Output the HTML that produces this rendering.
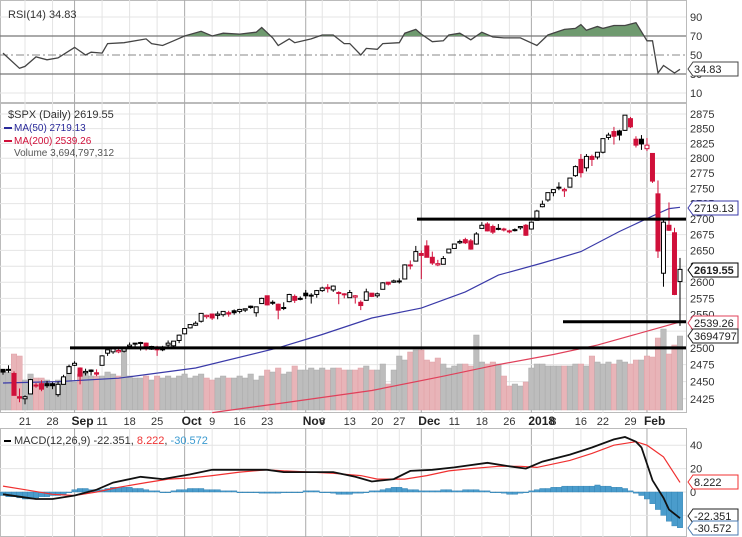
<!DOCTYPE html>
<html><head><meta charset="utf-8"><style>
body{margin:0;background:#fff;}
svg{display:block;font-family:"Liberation Sans",sans-serif;}
</style></head><body>
<svg id="c" width="742" height="537" viewBox="0 0 742 537" xmlns="http://www.w3.org/2000/svg">
<rect x="0" y="0" width="742" height="537" fill="#fff"/>
<g id="grid"></g>
<g id="vol"></g>
<g id="ma"></g>
<g id="candles"></g>
<g id="ann"></g>
<g id="rsi"></g>
<g id="macd"></g>
<g id="axes"></g>
<g id="legend">
<text x="8" y="18" font-size="11" fill="#333">RSI(14) 34.83</text>
<text x="8" y="118" font-size="11" fill="#333">$SPX (Daily) 2619.55</text>
<line x1="4" y1="128" x2="12" y2="128" stroke="#2a2a9a" stroke-width="2"/>
<text x="14" y="131" font-size="10" fill="#2a2a9a">MA(50) 2719.13</text>
<line x1="4" y1="141" x2="12" y2="141" stroke="#d0103a" stroke-width="2"/>
<text x="14" y="144" font-size="10" fill="#d0103a">MA(200) 2539.26</text>
<text x="14" y="156" font-size="10" fill="#555">Volume 3,694,797,312</text>
<line x1="4" y1="441" x2="11" y2="441" stroke="#000" stroke-width="2"/>
<text x="14" y="444" font-size="11"><tspan fill="#333">MACD(12,26,9) -22.351, </tspan><tspan fill="#e33">8.222</tspan><tspan fill="#333">, </tspan><tspan fill="#3a9ad0">-30.572</tspan></text>
</g>
</svg>
<script>
const closes=[2464,2468,2430,2426,2428,2453,2444,2439,2444,2444,2446,2457,2472,2477,2458,2465,2465,2461,2488,2497,2499,2496,2500,2504,2507,2508,2500,2502,2497,2497,2507,2510,2519,2529,2535,2537,2552,2549,2545,2551,2555,2551,2553,2558,2559,2561,2562,2575,2565,2569,2557,2560,2581,2572,2575,2579,2580,2587,2591,2590,2594,2584,2582,2584,2579,2564,2585,2578,2582,2599,2597,2602,2602,2627,2626,2648,2642,2639,2630,2629,2637,2652,2660,2664,2662,2652,2676,2690,2681,2679,2684,2683,2681,2682,2688,2674,2695,2713,2724,2743,2748,2751,2748,2767,2786,2776,2803,2798,2810,2833,2839,2837,2839,2873,2853,2822,2824,2822,2762,2649,2695,2682,2581,2620];
const opens=[2468,2468,2462,2428,2425,2432,2445,2447,2447,2447,2431,2446,2462,2474,2470,2463,2467,2463,2474,2492,2494,2494,2495,2502,2506,2507,2507,2498,2500,2501,2504,2503,2511,2521,2530,2534,2540,2547,2551,2549,2550,2553,2556,2555,2557,2563,2553,2567,2579,2568,2566,2561,2570,2578,2575,2583,2579,2581,2587,2592,2588,2584,2581,2576,2577,2569,2572,2583,2579,2589,2600,2600,2602,2605,2627,2633,2645,2657,2639,2627,2628,2646,2653,2662,2667,2665,2660,2685,2692,2688,2685,2684,2680,2683,2686,2690,2684,2698,2720,2731,2743,2752,2746,2752,2771,2798,2784,2803,2802,2810,2835,2845,2846,2847,2867,2832,2832,2816,2808,2741,2614,2690,2678,2601];
const highs=[2468,2474,2465,2440,2430,2454,2448,2452,2451,2449,2450,2460,2475,2480,2471,2469,2468,2468,2489,2497,2499,2499,2500,2508,2507,2509,2508,2503,2503,2503,2511,2510,2520,2529,2535,2540,2552,2550,2551,2555,2555,2556,2558,2559,2559,2564,2562,2576,2579,2572,2567,2569,2582,2581,2578,2588,2583,2588,2593,2597,2595,2586,2583,2588,2580,2572,2590,2583,2584,2600,2600,2604,2606,2628,2634,2657,2650,2666,2648,2635,2641,2652,2660,2667,2670,2668,2679,2695,2695,2691,2692,2686,2683,2685,2688,2692,2696,2715,2730,2743,2749,2760,2751,2767,2788,2807,2807,2806,2810,2833,2843,2853,2848,2873,2870,2837,2839,2834,2808,2763,2701,2727,2686,2638];
const lows=[2460,2463,2430,2420,2417,2432,2441,2436,2441,2439,2428,2446,2462,2473,2446,2459,2459,2458,2474,2488,2491,2492,2493,2500,2502,2496,2496,2497,2488,2495,2499,2500,2507,2520,2529,2533,2538,2544,2542,2543,2547,2547,2550,2552,2554,2559,2547,2567,2564,2565,2543,2557,2569,2568,2572,2574,2567,2576,2585,2584,2585,2566,2575,2576,2567,2557,2572,2577,2576,2589,2595,2599,2598,2605,2620,2633,2605,2639,2627,2625,2628,2645,2653,2660,2660,2651,2659,2685,2680,2676,2682,2680,2677,2680,2683,2673,2683,2698,2719,2728,2737,2747,2736,2752,2769,2768,2778,2787,2798,2808,2831,2823,2830,2846,2851,2818,2814,2812,2759,2638,2593,2681,2580,2533];
const volumes=[2.0,1.9,2.8,2.7,1.5,1.8,1.6,1.6,1.5,1.3,1.5,1.6,2.2,1.4,1.8,1.9,1.7,1.7,1.7,1.9,1.8,1.7,3.1,1.7,1.6,1.6,1.7,1.5,1.7,1.6,1.7,1.6,1.7,1.8,1.6,1.7,1.8,1.6,1.5,1.6,1.7,1.6,1.6,1.7,1.6,1.8,1.5,1.7,2.0,1.9,2.1,1.8,1.9,2.2,2.0,2.0,2.1,2.0,2.1,2.0,2.1,2.1,2.0,2.0,2.0,2.1,2.2,2.0,2.0,2.3,1.3,2.0,2.7,2.5,2.9,3.0,3.0,2.5,2.4,2.6,2.3,2.1,2.2,2.3,2.3,2.2,3.75,2.4,2.3,2.4,2.3,1.7,1.2,1.3,1.2,1.4,2.1,2.3,2.3,2.2,2.2,2.2,2.2,2.2,2.3,2.3,2.2,2.7,2.4,2.3,2.4,2.3,2.5,2.4,2.3,2.5,2.5,2.7,2.65,3.6,4.05,2.8,3.25,3.7];
const ma50Idx=[0,10,21,35,50,58,67,76,84,90,98,105,112,118,121,123];
const ma50Val=[2448,2450,2455,2470,2500,2520,2545,2560,2585,2611,2630,2648,2680,2705,2717,2719];
const ma200Idx=[38,50,67,80,90,100,108,117,123];
const ma200Val=[2405,2418,2437,2458,2475,2490,2504,2525,2539];
const rsiIdx=[0,3,4,6,8,10,13,15,16,18,19,22,26,27,29,31,33,36,38,40,43,46,47,49,50,52,53,56,58,60,62,63,65,66,68,69,72,73,75,76,78,80,81,83,85,87,89,91,93,94,97,99,102,104,105,106,108,109,111,113,115,117,118,119,120,122,123];
const rsiVal=[52,36,38,48,45,47,58,50,53,52,62,63,67,62,60,65,70,75,70,73,72,74,79,68,60,67,63,67,71,71,62,62,50,57,56,62,63,73,77,72,64,65,71,73,66,74,69,68,68,68,60,71,77,78,82,76,80,78,81,81,84,65,65,31,39,31,35];
const macdIdx=[0,3,6,9,13,17,20,25,29,34,38,43,48,51,56,60,64,67,71,74,78,82,88,92,95,98,103,107,111,113,115,116,118,120,121,123];
const macdVal=[-2,-4,-6,-6,-3,2,8,13,11,15,19,19,19,17,17,17,13,9,11,18,19,21,25,22,20,26,32,38,45,47,43,38,10,-5,-15,-22.351];
const sigIdx=[0,4,9,13,17,21,26,30,34,38,43,48,51,56,60,65,68,73,77,81,85,90,94,97,103,107,111,115,117,120,123];
const sigVal=[5,2,-2,-3,0,4,8,11,12,14,17,19,18,17,16,14,11,11,14,18,20,22,22,21,27,33,40,43,40,30,8.222];
const hist=[-3,-4,-4,-5,-6,-6,-5,-4,-4,-3,-3,-2,0,2,3,3,2,2,2,3,4,4,4,4,3,3,2,1,1,0,0,1,2,2,3,3,3,2,2,2,1,1,1,0,0,0,0,-1,-1,-1,-1,0,0,0,0,1,1,1,0,0,-1,-2,-2,-2,-1,-1,0,1,1,2,3,4,4,3,2,2,1,1,1,1,2,2,1,1,2,2,2,1,1,0,0,-1,-2,-2,-1,0,1,2,3,3,4,4,5,5,5,5,5,5,6,5,5,4,4,3,1,-1,-3,-6,-10,-15,-20,-25,-29,-30.572];
const priceTicks=[2875,2850,2825,2800,2775,2750,2725,2700,2675,2650,2625,2600,2575,2550,2525,2500,2475,2450,2425];
const rsiTicks=[90,70,50,30,10];
const macdTicks=[40,20,0,-20];
const dateLabels=["21","28","Sep","11","18","25","Oct","9","16","23","Nov","6","13","20","27","Dec","11","18","26","2018","8","16","22","29","Feb"];
const dateIdx=[4,9,13,18,23,28,33,38,43,48,55,58,63,68,72,76,82,87,92,96,100,105,109,114,117];

const NS="http://www.w3.org/2000/svg";
const PW=686;
function xOf(i){return 3+i*5.504;}
function yP(p){return 114+1673*Math.log(2875/p);}
function yR(v){return 102.5-0.95*v;}
function yM(v){return 492-1.17*v;}
function yV(v){return 410-v*20;}
function mk(parent,tag,attrs){const e=document.createElementNS(NS,tag);for(const k in attrs)e.setAttribute(k,attrs[k]);document.getElementById(parent).appendChild(e);return e;}

// panel frames and grids
[[0,103],[103,413],[428,537]].forEach(function(r){
  const e=mk('grid','rect',{x:0.5,y:r[0]+0.5,width:PW,height:r[1]-r[0]-1,fill:'none',stroke:'#bbb'});
  
  
});
dateIdx.forEach(function(d,k){
  const isM=isNaN(+dateLabels[k]) || dateLabels[k]==="2018";
  [[0,103],[103,413],[428,537]].forEach(function(r){
    const l=mk('grid','line',{x1:xOf(d),x2:xOf(d),y1:r[0],y2:r[1],stroke:isM?'#aaa':'#e4e4e4','stroke-width':1});
    
    
  });
  const t=mk('axes','text',{x:isM?xOf(d)-3:xOf(d),y:425,'font-size':isM?12:11,'font-weight':isM?'bold':'normal','text-anchor':isM?'start':'middle',fill:isM?'#222':'#333'});
  t.textContent=dateLabels[k];
  
  
});
priceTicks.forEach(function(p){
  const l=mk('grid','line',{x1:0,x2:PW,y1:yP(p),y2:yP(p),stroke:'#e4e4e4'});
  
  
  const t=mk('axes','text',{x:690,y:yP(p)+4,'font-size':11,fill:'#333'});
  t.textContent=p;
  
  
});
rsiTicks.forEach(function(v){
  const main=(v===70||v===30);
  const l=mk('grid','line',{x1:0,x2:PW,y1:yR(v),y2:yR(v),stroke:main?'#777':(v===50?'#888':'#e4e4e4'),'stroke-dasharray':v===50?'8,3,2,3':'none','stroke-width':main?1.3:1});
  
  
  const t=mk('axes','text',{x:690,y:yR(v)+4,'font-size':11,fill:'#333'});
  t.textContent=v;
  
  
});
macdTicks.forEach(function(v){
  const l=mk('grid','line',{x1:0,x2:PW,y1:yM(v),y2:yM(v),stroke:'#e4e4e4'});
  
  
  const t=mk('axes','text',{x:690,y:yM(v)+4,'font-size':11,fill:'#333'});
  t.textContent=v;
  
  
});

// volume
volumes.forEach(function(v,i){
  const dn=i>0 && closes[i]<closes[i-1];
  const r=mk('vol','rect',{x:xOf(i)-2.75,y:yV(v),width:5.5,height:410-yV(v),fill:dn?'#e8b4b8':'#bdbdbd',stroke:dn?'#e0a0a6':'#aaa','stroke-width':0.5});
  
  
});
// MAs
function pathOf(ix,vals,fy){return ix.map(function(i,k){return (k?'L':'M')+xOf(i).toFixed(1)+','+fy(vals[k]).toFixed(1);}).join('');}
let e=mk('ma','path',{d:pathOf(ma50Idx,ma50Val,yP),fill:'none',stroke:'#3a3aa8','stroke-width':1.2});


e=mk('ma','path',{d:pathOf(ma200Idx,ma200Val,yP),fill:'none',stroke:'#e0405a','stroke-width':1.2});



// candles
closes.forEach(function(c,i){
  const o=opens[i];
  const col=(i===0||c>=closes[i-1])?'#000':'#d0103a';
  const x=xOf(i);
  const w=mk('candles','line',{x1:x,x2:x,y1:yP(highs[i]),y2:yP(lows[i]),stroke:col,'stroke-width':1});
  
  
  const top=yP(Math.max(o,c)),bot=yP(Math.min(o,c));
  const b=mk('candles','rect',{x:x-2,y:top,width:4,height:Math.max(1,bot-top),fill:c>=o?'#fff':col,stroke:col,'stroke-width':1});
  
  
});

// annotation lines
[[70,2500],[417,2700],[563,2539.26]].forEach(function(a){
  const l=mk('ann','line',{x1:a[0],x2:PW,y1:yP(a[1]),y2:yP(a[1]),stroke:'#000','stroke-width':3});
  
  
});

// RSI
const rsiD=pathOf(rsiIdx,rsiVal,yR);
mk('rsi','clipPath',{id:'ob'});
const cr=mk('ob','rect',{x:0,y:0,width:PW,height:yR(70)});
const fillD=rsiD+'L'+xOf(rsiIdx[rsiIdx.length-1])+','+yR(70)+'L'+xOf(0)+','+yR(70)+'Z';
e=mk('rsi','path',{d:fillD,fill:'#6f9a6f','clip-path':'url(#ob)'});


e=mk('rsi','path',{d:rsiD,fill:'none',stroke:'#444','stroke-width':1.3});



// MACD
hist.forEach(function(h,i){
  const y0=yM(0),y1=yM(h);
  const r=mk('macd','rect',{x:xOf(i)-2.75,y:Math.min(y0,y1),width:5.5,height:Math.max(0.8,Math.abs(y1-y0)),fill:'#4a9ccc',stroke:'#2f7fb0','stroke-width':0.4});
  
  
});
e=mk('macd','path',{d:pathOf(sigIdx,sigVal,yM),fill:'none',stroke:'#f03030','stroke-width':1.2});


e=mk('macd','path',{d:pathOf(macdIdx,macdVal,yM),fill:'none',stroke:'#111','stroke-width':1.8});



// value boxes
function box(y,txt,col,bold,name){
  const g=mk('axes','g',{});
  
  
  const p=document.createElementNS(NS,'path');
  p.setAttribute('d','M688,'+y+'L693,'+(y-7)+'L738,'+(y-7)+'L738,'+(y+7)+'L693,'+(y+7)+'Z');
  p.setAttribute('fill','#fff');p.setAttribute('stroke',col);
  g.appendChild(p);
  const t=document.createElementNS(NS,'text');
  t.setAttribute('x',694);t.setAttribute('y',y+4);t.setAttribute('font-size',11);
  if(bold)t.setAttribute('font-weight','bold');
  t.setAttribute('fill','#222');t.textContent=txt;g.appendChild(t);
}
box(69,'34.83','#444',false,'rsi-value-box');
box(208,'2719.13','#3a3aa8',false,'ma50-value-box');
box(270,'2619.55','#000',true,'price-value-box');
box(323,'2539.26','#e0405a',false,'ma200-value-box');
box(336,'3694797','#222',false,'volume-value-box');
box(482,'8.222','#f03030',false,'signal-value-box');
box(516,'-22.351','#222',false,'macd-value-box');
box(528,'-30.572','#4a7ab0',false,'histogram-value-box');
</script>
</body></html>
